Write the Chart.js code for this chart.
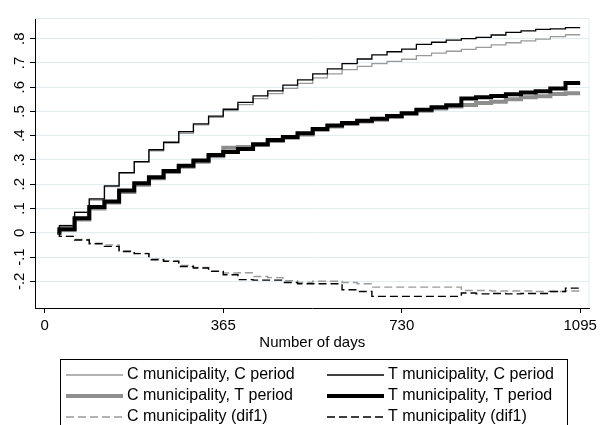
<!DOCTYPE HTML>
<html>
  <head>
    <meta charset="UTF-8"/>
    <title>Number of days</title>
    <script src="https://cdn.jsdelivr.net/npm/chart.js@4.4.0/dist/chart.umd.min.js"></script>
    <style>
     html, body { margin: 0; padding: 0; background: #fff; }
     #wrap { width: 601px; height: 425px; position: relative; }
    </style>
  </head>
  <body>
    <div id="wrap"><canvas id="chart"></canvas></div>

    <script>
     // step positions (days) - first point is the start, last one closes the final step
     var days = [26, 30, 61, 91, 122, 152, 183, 213, 243, 274, 304, 335, 365, 395, 426, 456, 487, 517, 548,
                 578, 608, 639, 669, 700, 730, 760, 791, 821, 852, 882, 913, 943, 974, 1004, 1034, 1065, 1095];

     var cMunCPeriod = [0, 0.030, 0.085, 0.135, 0.190, 0.245, 0.290, 0.338, 0.370, 0.410, 0.445, 0.476, 0.503,
                        0.528, 0.553, 0.573, 0.595, 0.616, 0.638, 0.655, 0.672, 0.686, 0.697, 0.706, 0.715,
                        0.730, 0.740, 0.748, 0.756, 0.764, 0.774, 0.783, 0.791, 0.798, 0.808, 0.816, 0.816];
     var tMunCPeriod = [0, 0.029, 0.084, 0.140, 0.193, 0.248, 0.293, 0.342, 0.373, 0.417, 0.449, 0.481, 0.509,
                        0.537, 0.564, 0.585, 0.608, 0.630, 0.655, 0.675, 0.697, 0.716, 0.733, 0.746, 0.757,
                        0.776, 0.785, 0.794, 0.800, 0.805, 0.815, 0.826, 0.832, 0.838, 0.840, 0.845, 0.845];
     var cMunTPeriod = [0, 0.012, 0.055, 0.100, 0.125, 0.168, 0.198, 0.225, 0.250, 0.272, 0.293, 0.315, 0.350,
                        0.353, 0.362, 0.378, 0.392, 0.405, 0.424, 0.438, 0.448, 0.458, 0.466, 0.477, 0.490,
                        0.503, 0.512, 0.520, 0.527, 0.535, 0.540, 0.550, 0.558, 0.563, 0.572, 0.575, 0.575];
     var tMunTPeriod = [0, 0.015, 0.060, 0.106, 0.129, 0.174, 0.204, 0.229, 0.255, 0.276, 0.298, 0.320, 0.333,
                        0.345, 0.365, 0.382, 0.395, 0.410, 0.428, 0.442, 0.452, 0.462, 0.470, 0.481, 0.493,
                        0.507, 0.517, 0.525, 0.553, 0.558, 0.564, 0.571, 0.578, 0.583, 0.595, 0.617, 0.617];
     var cMunDif1 = [0, -0.015, -0.028, -0.043, -0.050, -0.075, -0.085, -0.108, -0.115, -0.135, -0.143, -0.157, -0.166,
                     -0.165, -0.180, -0.185, -0.198, -0.205, -0.200, -0.200, -0.205, -0.210, -0.224, -0.224, -0.224,
                     -0.224, -0.224, -0.224, -0.238, -0.238, -0.240, -0.240, -0.240, -0.242, -0.242, -0.240, -0.240];
     var tMunDif1 = [0, -0.015, -0.030, -0.045, -0.056, -0.077, -0.086, -0.111, -0.118, -0.139, -0.145, -0.159, -0.173,
                     -0.193, -0.195, -0.195, -0.205, -0.210, -0.210, -0.210, -0.235, -0.242, -0.262, -0.262, -0.262,
                     -0.262, -0.262, -0.262, -0.248, -0.252, -0.250, -0.252, -0.250, -0.250, -0.242, -0.228, -0.228];

     var xTicks = [0, 365, 730, 1095];
     var yTicks = [-0.2, -0.1, 0, 0.1, 0.2, 0.3, 0.4, 0.5, 0.6, 0.7, 0.8];

     var seriesNames = ["C municipality, C period", "T municipality, C period",
                        "C municipality, T period", "T municipality, T period",
                        "C municipality (dif1)", "T municipality (dif1)"];

     function points(values){
         return values.map((v, i) => ({x: days[i], y: v}));
     }

     // Stata style labels: .5 instead of 0.5
     function stataNum(v){
         var s = String(Math.round(v * 10) / 10);
         return s.replace(/^0\./, ".").replace(/^-0\./, "-.");
     }

     function makeLine(label, values, color, width, dash, idx){
         return {
             label: label,
             data: points(values),
             borderColor: color,
             backgroundColor: color,
             borderWidth: width,
             borderDash: dash,
             pointRadius: 0,
             stepped: true,
             fill: false,
             order: 10 - idx
         };
     }

     var frame = {
         id: "frame",
         beforeDatasetsDraw: function(chart){
             var a = chart.chartArea, ctx = chart.ctx;
             ctx.save();
             ctx.strokeStyle = "#e3ecee";
             ctx.lineWidth = 1;
             ctx.beginPath();
             ctx.moveTo(a.left, a.top + 0.5);
             ctx.lineTo(a.right - 0.5, a.top + 0.5);
             ctx.lineTo(a.right - 0.5, a.bottom);
             ctx.stroke();
             ctx.restore();
         }
     };

     var boxLegend = {
         id: "boxLegend",
         afterDraw: function(chart){
             var ctx = chart.ctx;
             var lineX = [66, 327], textX = [127, 388], rowY = [375, 396, 417];
             ctx.save();
             ctx.strokeStyle = "#000";
             ctx.lineWidth = 1;
             ctx.strokeRect(60.5, 359.5, 507, 90);
             ctx.font = "16px 'Liberation Sans', Arial, sans-serif";
             ctx.fillStyle = "#000";
             ctx.textBaseline = "middle";
             chart.data.datasets.forEach(function(ds, i){
                 var col = i % 2, y = rowY[Math.floor(i / 2)];
                 ctx.beginPath();
                 ctx.strokeStyle = ds.borderColor;
                 ctx.lineWidth = ds.borderWidth;
                 ctx.setLineDash(ds.borderDash);
                 ctx.moveTo(lineX[col], y);
                 ctx.lineTo(lineX[col] + 57, y);
                 ctx.stroke();
                 ctx.setLineDash([]);
                 ctx.fillText(ds.label, textX[col], y);
             });
             ctx.restore();
         }
     };

     Chart.defaults.font.family = "'Liberation Sans', Arial, sans-serif";
     Chart.defaults.color = "#000";

     new Chart("chart", {
         type: "line",
         data: {
             datasets: [
                 makeLine(seriesNames[0], cMunCPeriod, "#9a9a9a", 1.3, [], 0),
                 makeLine(seriesNames[1], tMunCPeriod, "#000000", 1.3, [], 1),
                 makeLine(seriesNames[2], cMunTPeriod, "#8e8e8e", 4, [], 2),
                 makeLine(seriesNames[3], tMunTPeriod, "#000000", 4, [], 3),
                 makeLine(seriesNames[4], cMunDif1, "#9a9a9a", 1.4, [8, 4], 4),
                 makeLine(seriesNames[5], tMunDif1, "#000000", 1.4, [8, 4], 5)
             ]
         },
         options: {
             responsive: true,
             maintainAspectRatio: false,
             animation: false,
             layout: { padding: { top: 18, right: 8, bottom: 73, left: 0 } },
             plugins: { legend: { display: false }, tooltip: { enabled: false } },
             scales: {
                 x: {
                     type: "linear",
                     min: -20,
                     max: 1114,
                     afterBuildTicks: function(scale){ scale.ticks = xTicks.map(v => ({value: v})); },
                     afterFit: function(scale){ scale.height = 44; },
                     grid: { drawOnChartArea: false, tickLength: 5, tickColor: "#000", tickWidth: 1 },
                     border: { color: "#000", width: 1 },
                     ticks: {
                         font: { size: 15 },
                         padding: 4,
                         maxRotation: 0,
                         autoSkip: false,
                         callback: function(v){ return String(v); }
                     },
                     title: { display: true, text: "Number of days", font: { size: 15 }, padding: 0 }
                 },
                 y: {
                     type: "linear",
                     min: -0.31,
                     max: 0.885,
                     afterBuildTicks: function(scale){ scale.ticks = yTicks.map(v => ({value: v})); },
                     afterFit: function(scale){ scale.width = 35; },
                     grid: { color: "#e3ecee", lineWidth: 1, tickLength: 5, tickColor: "#000", tickWidth: 1 },
                     border: { color: "#000", width: 1 },
                     ticks: {
                         font: { size: 15 },
                         padding: 1.5,
                         minRotation: 90,
                         maxRotation: 90,
                         crossAlign: "center",
                         autoSkip: false,
                         callback: function(v){ return stataNum(v); }
                     }
                 }
             }
         },
         plugins: [frame, boxLegend]
     });
    </script>
  </body>
</html>
